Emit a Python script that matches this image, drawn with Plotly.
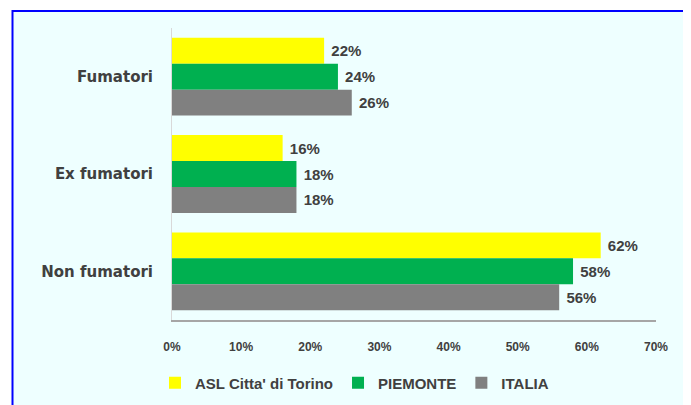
import plotly.graph_objects as go

categories = ["Fumatori", "Ex fumatori", "Non fumatori"]
series_names = ["ASL Citta' di Torino", "PIEMONTE", "ITALIA"]
asl_values = [22, 16, 62]
piemonte_values = [24, 18, 58]
italia_values = [26, 18, 56]
x_ticks = [0, 10, 20, 30, 40, 50, 60, 70]
x_tick_labels = ["0%", "10%", "20%", "30%", "40%", "50%", "60%", "70%"]

colors = ["#FFFF00", "#00B050", "#808080"]
values = [asl_values, piemonte_values, italia_values]

# page has an 8px body margin; work in screen coordinates and shift
OFF = 8
W, H = 691, 405
L = 172 - OFF
T = 27.5 - OFF
plot_right = 656 - OFF
plot_bottom = 320 - OFF
R = W - plot_right
B = H - plot_bottom
pw, ph = plot_right - L, plot_bottom - T

def px(x):
    return (x - OFF - L) / pw

def py(y):
    return (plot_bottom - (y - OFF)) / ph

fig = go.Figure()
for name, vals, c in zip(series_names, values, colors):
    fig.add_trace(go.Bar(
        y=categories, x=vals, name=name, orientation="h",
        marker=dict(color=c, line=dict(width=0)),
        text=[f"{v}%" for v in vals], texttemplate=" %{text}",
        textposition="outside", cliponaxis=False,
        textfont=dict(family="Liberation Sans", size=15, color="#404040", weight="bold"),
    ))

fig.add_shape(type="rect", xref="paper", yref="paper",
              x0=px(12.5), x1=px(686), y0=py(430), y1=py(10.5),
              line=dict(color="#0000FF", width=2), fillcolor="#EEFFFF", layer="below")

fig.update_layout(
    width=W, height=H,
    margin=dict(l=L, r=R, t=T, b=B, pad=0),
    paper_bgcolor="white", plot_bgcolor="rgba(0,0,0,0)",
    barmode="group", bargap=0.2, bargroupgap=0,
    showlegend=True,
    legend=dict(orientation="h", x=px(155), xanchor="left", y=py(383), yanchor="middle",
                font=dict(family="Liberation Sans", size=15, color="#404040", weight="bold"),
                bgcolor="rgba(0,0,0,0)", traceorder="normal"),
    xaxis=dict(range=[0, 70], tickvals=x_ticks, ticktext=x_tick_labels, showgrid=False,
               zeroline=False, showline=True, linecolor="#A6A6A6", linewidth=1.5,
               ticks="", ticklabelstandoff=15,
               tickfont=dict(family="Liberation Sans", size=12, color="#404040", weight="bold")),
    yaxis=dict(autorange="reversed", showgrid=False, zeroline=False, showline=True,
               linecolor="#D9D9D9", linewidth=1, ticks="", ticklabelstandoff=15,
               tickfont=dict(family="DejaVu Sans", size=15, color="#404040", weight="bold")),
)

fig.write_html("out.html")
